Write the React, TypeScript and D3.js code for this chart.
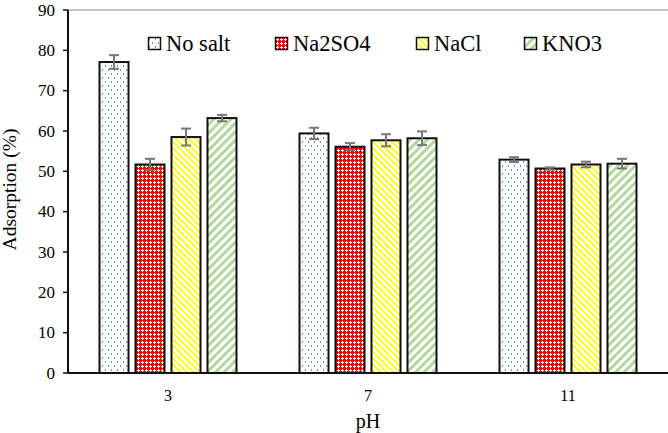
import * as d3 from "d3";

const phLevels = ["3", "7", "11"];
const seriesNames = ["No salt", "Na2SO4", "NaCl", "KNO3"];
const noSalt = [77.1, 59.4, 52.9];
const na2so4 = [51.7, 56.1, 50.7];
const nacl = [58.5, 57.7, 51.7];
const kno3 = [63.2, 58.2, 51.9];
const noSaltErr = [1.7, 1.4, 0.6];
const na2so4Err = [1.4, 0.9, 0.3];
const naclErr = [2.1, 1.5, 0.7];
const kno3Err = [0.8, 1.7, 1.2];
const yTicks = [0, 10, 20, 30, 40, 50, 60, 70, 80, 90];

const values = [noSalt, na2so4, nacl, kno3];
const errors = [noSaltErr, na2so4Err, naclErr, kno3Err];
const patternIds = ["pDots", "pCheck", "pYellow", "pGreen"];
const legendX = [148, 275, 416, 524];

const width = 668;
const height = 433;
const margin = { top: 10, right: 0, bottom: 60, left: 68 };
const font = "Liberation Serif, DejaVu Serif, serif";

export default function App() {
  const x0 = d3.scaleBand().domain(phLevels).range([margin.left, width - margin.right]);
  const x1 = d3.scaleBand().domain(seriesNames).range([0, x0.bandwidth()]).paddingInner(0.194).paddingOuter(0.875);
  const y = d3.scaleLinear().domain([0, 90]).range([height - margin.bottom, margin.top]);

  return (
    <svg width={width} height={height} style={{ position: "absolute", left: 0, top: 0, fontFamily: font }}>
      <defs>
        <pattern id="pDots" width={6} height={8} patternUnits="userSpaceOnUse">
          <rect width={6} height={8} fill="#fff" />
          <rect x={1} y={1} width={1} height={2} fill="#5b9bd5" shapeRendering="crispEdges" />
          <rect x={4} y={5} width={1} height={2} fill="#5b9bd5" shapeRendering="crispEdges" />
        </pattern>
        <pattern id="pCheck" width={4} height={4} patternUnits="userSpaceOnUse">
          <g shapeRendering="crispEdges">
            <rect width={4} height={4} fill="#ff0000" />
            <rect x={1} y={2} width={3} height={1} fill="#fff" />
            <rect x={2} y={1} width={1} height={3} fill="#fff" />
          </g>
        </pattern>
        <pattern id="pYellow" width={4.5} height={4.5} patternUnits="userSpaceOnUse" patternTransform="rotate(-45)">
          <rect width={4.5} height={4.5} fill="#fff" />
          <rect width={1.8} height={4.5} fill="#ffff00" />
        </pattern>
        <pattern id="pGreen" width={6} height={6} patternUnits="userSpaceOnUse" patternTransform="rotate(45)">
          <rect width={6} height={6} fill="#fff" />
          <rect width={3} height={6} fill="#b4d89c" />
        </pattern>
      </defs>

      <line x1={margin.left} x2={width} y1={margin.top} y2={margin.top} stroke="#888" strokeWidth={1} />

      {phLevels.map((ph, gi) => (
        <g key={ph} transform={`translate(${x0(ph)},0)`}>
          {seriesNames.map((name, si) => {
            const v = values[si][gi];
            const e = errors[si][gi];
            const bx = x1(name) ?? 0;
            const cx = bx + x1.bandwidth() / 2;
            return (
              <g key={name}>
                <rect x={bx} y={y(v)} width={x1.bandwidth()} height={y(0) - y(v)} fill={`url(#${patternIds[si]})`} stroke="#111" strokeWidth={2} />
                <line x1={cx} x2={cx} y1={y(v + e)} y2={y(v - e)} stroke="#777" strokeWidth={2} />
                <line x1={cx - 5} x2={cx + 5} y1={y(v + e)} y2={y(v + e)} stroke="#777" strokeWidth={2} />
                <line x1={cx - 5} x2={cx + 5} y1={y(v - e)} y2={y(v - e)} stroke="#777" strokeWidth={2} />
              </g>
            );
          })}
          <text x={x0.bandwidth() / 2} y={401} textAnchor="middle" fontSize={16} fill="#000">{ph}</text>
        </g>
      ))}

      <line x1={margin.left} x2={width} y1={y(0)} y2={y(0)} stroke="#111" strokeWidth={2} />
      <line x1={margin.left} x2={margin.left} y1={y(90)} y2={y(0)} stroke="#111" strokeWidth={2} />
      {yTicks.map((t) => (
        <g key={t}>
          <line x1={margin.left - 5} x2={margin.left} y1={y(t)} y2={y(t)} stroke="#111" strokeWidth={1.5} />
          <text x={55} y={y(t) + 5.5} textAnchor="end" fontSize={17} fill="#000">{t}</text>
        </g>
      ))}

      <text x={368} y={428} textAnchor="middle" fontSize={20} fill="#000">pH</text>
      <text transform={`translate(16,${(y(0) + y(90)) / 2 - 2}) rotate(-90)`} textAnchor="middle" fontSize={19.5} fill="#000">Adsorption (%)</text>

      {seriesNames.map((name, si) => (
        <g key={name} transform={`translate(${legendX[si]},37)`}>
          <rect x={0.5} y={0.5} width={12} height={12} fill={`url(#${patternIds[si]})`} stroke="#111" strokeWidth={1.5} />
          <text x={18} y={13.7} fontSize={22.5} fill="#000">{name}</text>
        </g>
      ))}
    </svg>
  );
}
